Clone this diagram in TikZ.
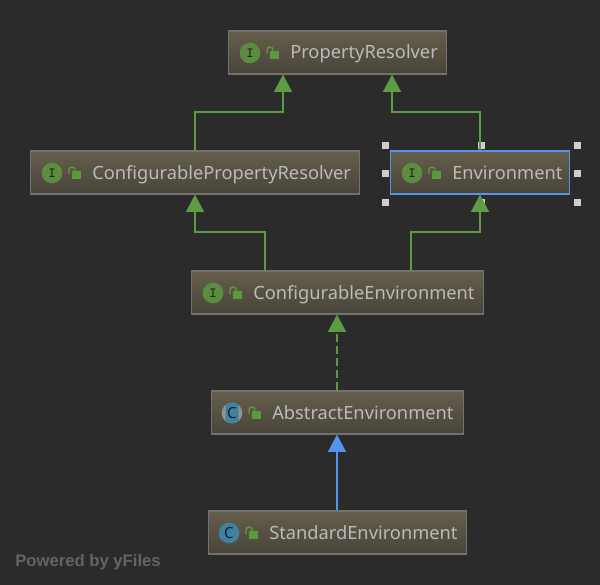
\documentclass[tikz,border=0pt]{standalone}
\usepackage{fontspec}
\setmainfont{Noto Sans}
\newfontfamily\yfilesfont{Liberation Sans}
\usetikzlibrary{arrows.meta,shapes.geometric}
\definecolor{canvas}{HTML}{2B2B2B}
\definecolor{boxtop}{HTML}{655E4C}
\definecolor{boxbot}{HTML}{48443A}
\definecolor{boxline}{HTML}{72726E}
\definecolor{labeltext}{HTML}{BBBBBB}
\definecolor{extgreen}{HTML}{5F9A45}
\definecolor{extblue}{HTML}{5394EC}
\definecolor{ifacegreen}{HTML}{5B8C3F}
\definecolor{classblue}{HTML}{40819E}
\definecolor{lockgreen}{HTML}{5A9A3C}
\definecolor{handlegrey}{HTML}{CFCFCF}
\tikzset{
  umlbox/.style={draw=boxline, line width=.85pt, top color=boxtop, bottom color=boxbot, minimum height=32.25pt, inner sep=0pt},
  boxlabel/.style={anchor=west, inner sep=0pt, text height=13.5pt, text depth=3pt, text=labeltext, font=\fontsize{13.7pt}{15pt}\selectfont},
  ifaceicon/.style={circle, fill=ifacegreen, minimum size=15.5pt, inner sep=0pt, text=black!70!ifacegreen, font=\ttfamily\bfseries\fontsize{10.5pt}{10pt}\selectfont},
  classicon/.style={circle, fill=classblue, minimum size=15.5pt, inner sep=0pt, text=black!75!classblue, font=\fontsize{11.5pt}{11pt}\selectfont},
  handle/.style={fill=handlegrey, minimum size=5.25pt, inner sep=0pt},
  extends/.style={draw=extgreen, line width=.9pt, -{Triangle[width=13.5pt,length=13pt,fill=extgreen]}},
  realizes/.style={extends, dash pattern=on 6.4pt off 2.6pt},
  subclass/.style={draw=extblue, line width=.9pt, -{Triangle[width=13.5pt,length=13pt,fill=extblue]}},
  lockpic/.pic={
    \fill[lockgreen] (-3,-2) rectangle (6,6);
    \draw[lockgreen, line width=1.1pt] (-6,1) -- (-6,-3) arc[start angle=180, end angle=360, radius=3] -- (0,-2);
  }
}
\begin{document}
\begin{tikzpicture}[x=.75pt, y=-.75pt]
  \useasboundingbox[fill=canvas] (0,0) rectangle (600,585);

  % boxes
  \node[umlbox, minimum width=163.5pt] (pr) at (337.5,52.5) {};
  \node[umlbox, minimum width=246.75pt] (cpr) at (195,172.5) {};
  \node[umlbox, minimum width=134.25pt, draw=extblue] (env) at (480,172.5) {};
  \node[umlbox, minimum width=219pt] (ce) at (337.5,292.5) {};
  \node[umlbox, minimum width=189pt] (ae) at (337.5,412.5) {};
  \node[umlbox, minimum width=193.5pt] (se) at (337.5,532.5) {};

  % icons
  \node[ifaceicon] (pri) at (250,53) {I};
  \node[ifaceicon] (cpri) at (52,173) {I};
  \node[ifaceicon] (envi) at (412,173) {I};
  \node[ifaceicon] (cei) at (213,293) {I};
  \node[classicon, fill=gray!85] (aei) at (232,413) {C};
  \begin{scope}
    \clip (225.5,400) rectangle (238.5,426);
    \node[classicon] at (232,413) {C};
  \end{scope}
  \node[classicon] (sei) at (229,533) {C};
  \foreach \icon in {pri,cpri,envi,cei,aei,sei}
    \pic at ([xshift=17.25pt]\icon.center) {lockpic};

  % labels
  \node[boxlabel] (prl) at (290,52) {PropertyResolver};
  \node[boxlabel] (cprl) at (92,172) {ConfigurablePropertyResolver};
  \node[boxlabel] (envl) at (452,172) {Environment};
  \node[boxlabel] (cel) at (253,292) {ConfigurableEnvironment};
  \node[boxlabel] (ael) at (272,412) {AbstractEnvironment};
  \node[boxlabel] (sel) at (269,532) {StandardEnvironment};

  % selection handles
  \foreach \x/\y in {385/145, 481/145, 577/145, 385/173, 577/173, 385/202, 481/202, 577/202}
    \node[handle] at (\x,\y) {};

  % connectors
  \draw[extends] (cpr.north) |- (283,112) -- (pr.south -| 283,0);
  \draw[extends] (env.north) |- (392,112) -- (pr.south -| 392,0);
  \draw[extends] (ce.north -| 265,0) |- (195,232) -- (cpr.south);
  \draw[extends] (ce.north -| 411,0) |- (480,232) -- (env.south);
  \draw[realizes] (ae.north -| 337,0) -- (ce.south -| 337,0);
  \draw[subclass] (se.north -| 337,0) -- (ae.south -| 337,0);

  \node[anchor=base west, inner sep=0pt, text=white!27!canvas, font=\yfilesfont\bfseries\fontsize{12.5pt}{14pt}\selectfont] (yfiles) at (15,566.5) {Powered by yFiles};
\end{tikzpicture}
\end{document}
